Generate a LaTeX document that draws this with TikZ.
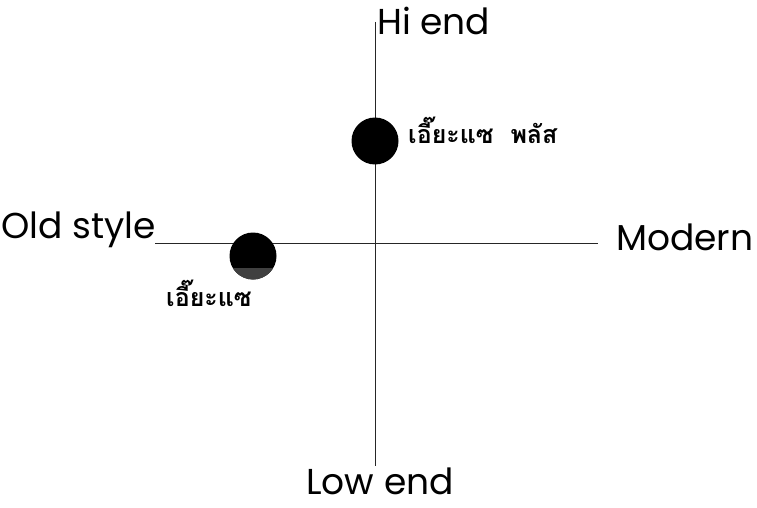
\documentclass[tikz,border=0pt]{standalone}
\usepackage{fontspec}
\setmainfont{Poppins}
\newfontfamily\thaifont[Script=Thai]{Loma}
\begin{document}
\begin{tikzpicture}[x=1pt,y=-1pt,
  axis/.style={line width=0.8pt,black!85},
  lbl/.style={inner sep=0pt,font=\fontsize{36}{36}\selectfont},
  thlbl/.style={inner sep=0pt,font=\thaifont\bfseries\fontsize{25}{25}\selectfont},
  dot/.style={circle,fill=black,inner sep=0pt,minimum size=47pt}]
\useasboundingbox (0,0) rectangle (757,508);
\coordinate (hl) at (155,243);
\coordinate (hr) at (598,243);
\coordinate (vt) at (375,22);
\coordinate (vb) at (375,466);
\draw[axis] (hl) -- (hr);
\draw[axis] (vt) -- (vb);
\node[lbl,anchor=base west] (hi) at (377,35) {Hi end};
\node[lbl,anchor=base] (low) at (380,494) {Low end};
\node[lbl,anchor=base east] (old) at (156,238) {Old style};
\node[lbl,anchor=base west] (mod) at (616,250) {Modern};
\node[dot] (d1) at (375,141) {};
\node[dot] (d2) at (253,256) {};
\begin{scope}
\clip (d2.center) circle (23.5);
\fill[black!75] (228,268) rectangle (280,285);
\end{scope}
\node[thlbl,anchor=base west] (t1) at (408,143) {เอี๊ยะแซ\ \ พลัส};
\node[thlbl,anchor=base west] (t2) at (166,306) {เอี๊ยะแซ};
\end{tikzpicture}
\end{document}
